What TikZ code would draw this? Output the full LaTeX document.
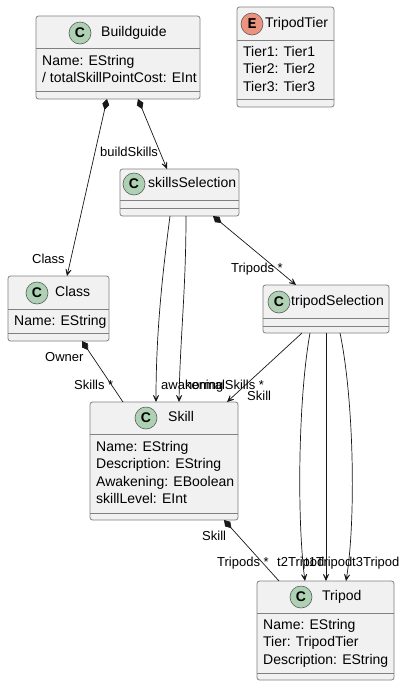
\documentclass[tikz,border=0pt]{standalone}
\usepackage{fontspec}
\setmainfont{Liberation Sans}
\newfontfamily\monob{Liberation Mono}
\usetikzlibrary{arrows.meta,calc}
\definecolor{boxfill}{HTML}{F1F1F1}
\definecolor{boxline}{HTML}{808080}
\definecolor{connline}{HTML}{181818}
\definecolor{cfill}{HTML}{ADD1B2}
\definecolor{efill}{HTML}{EB937F}
\tikzset{
  classbox/.style={draw=boxline, line width=0.8pt, fill=boxfill, rounded corners=2.5pt, anchor=north west, inner sep=0pt, outer sep=0pt},
  sepline/.style={draw=boxline, line width=0.8pt},
  cicon/.style={circle, draw=connline!70, line width=0.6pt, fill=cfill, minimum size=22pt, inner sep=0pt, font=\bfseries\fontsize{14}{14}\selectfont},
  eicon/.style={cicon, fill=efill, font=\monob\bfseries\fontsize{15}{15}\selectfont},
  title/.style={anchor=west, inner sep=0pt, text height=10pt, text depth=3pt, font=\fontsize{14}{16}\selectfont},
  attr/.style={title},
  lbl/.style={anchor=west, inner sep=0pt, text height=9.5pt, text depth=3pt, font=\fontsize{13}{15}\selectfont},
  conn/.style={draw=connline, line width=0.7pt},
  compar/.style={conn, {Diamond[length=11pt,width=7pt]}-{Stealth[length=10pt,width=9pt,inset=6.5pt]}},
  comp/.style={conn, {Diamond[length=11pt,width=7pt]}-},
  ar/.style={conn, -{Stealth[length=10pt,width=9pt,inset=6.5pt]}}
}
\begin{document}
\begin{tikzpicture}[x=1pt,y=-1pt]
\useasboundingbox (0,0) rectangle (403,686);
\fill[white] (0,0) rectangle (403,686);

% Buildguide
\node[classbox, minimum width=164pt, minimum height=83pt] (bg) at (36,16) {};
\draw[sepline] (36,48) -- (200,48);
\draw[sepline] (36,91) -- (200,91);
\node[cicon] (bgc) at (80,33) {C};
\node[title] (bgt) at (101,33) {Buildguide};
\node[attr] (bga1) at (42,62) {Name: EString};
\node[attr] (bga2) at (42,79) {/ totalSkillPointCost: EInt};

% TripodTier
\node[classbox, minimum width=97pt, minimum height=100pt] (tt) at (237,7) {};
\draw[sepline] (237,40) -- (334,40);
\draw[sepline] (237,99) -- (334,99);
\node[eicon] (ttc) at (252,24) {E};
\node[title] (ttt) at (265,24) {TripodTier};
\node[attr] (tta1) at (243,53) {Tier1: Tier1};
\node[attr] (tta2) at (243,70) {Tier2: Tier2};
\node[attr] (tta3) at (243,88) {Tier3: Tier3};

% skillsSelection
\node[classbox, minimum width=119pt, minimum height=47pt] (ss) at (120,169) {};
\draw[sepline] (120,200) -- (239,200);
\draw[sepline] (120,208) -- (239,208);
\node[cicon] (ssc) at (134,184) {C};
\node[title] (sst) at (148,184) {skillsSelection};

% Class
\node[classbox, minimum width=101pt, minimum height=65pt] (cl) at (8,276) {};
\draw[sepline] (8,309) -- (109,309);
\draw[sepline] (8,333) -- (109,333);
\node[cicon] (clc) at (37,293) {C};
\node[title] (clt) at (55,293) {Class};
\node[attr] (cla1) at (14,322) {Name: EString};

% tripodSelection
\node[classbox, minimum width=126pt, minimum height=48pt] (ts) at (263,285) {};
\draw[sepline] (263,318) -- (389,318);
\draw[sepline] (263,326) -- (389,326);
\node[cicon] (tsc) at (279,302) {C};
\node[title] (tst) at (291,302) {tripodSelection};

% Skill
\node[classbox, minimum width=148pt, minimum height=118pt] (sk) at (90,402) {};
\draw[sepline] (90,434) -- (238,434);
\draw[sepline] (90,513) -- (238,513);
\node[cicon] (skc) at (146,418) {C};
\node[title] (skt) at (168,418) {Skill};
\node[attr] (ska1) at (96,448) {Name: EString};
\node[attr] (ska2) at (96,465) {Description: EString};
\node[attr] (ska3) at (96,483) {Awakening: EBoolean};
\node[attr] (ska4) at (96,500) {skillLevel: EInt};

% Tripod
\node[classbox, minimum width=137pt, minimum height=99pt] (tp) at (257,581) {};
\draw[sepline] (257,613) -- (394,613);
\draw[sepline] (257,673) -- (394,673);
\node[cicon] (tpc) at (301,597) {C};
\node[title] (tpt) at (322,597) {Tripod};
\node[attr] (tpa1) at (263,626) {Name: EString};
\node[attr] (tpa2) at (263,643) {Tier: TripodTier};
\node[attr] (tpa3) at (263,661) {Description: EString};

% connectors
\draw[compar] ($(bg.south west)+(71,0)$) -- ($(cl.north west)+(59,0)$);
\draw[compar] ($(bg.south west)+(102,0)$) -- ($(ss.north west)+(47,0)$);
\draw[ar] ($(ss.south west)+(50,0)$) .. controls +(-7,54) and +(0,-72) .. ($(sk.north west)+(66,0)$);
\draw[ar] ($(ss.south west)+(66,0)$) .. controls +(0,74) and +(1,-62) .. ($(sk.north west)+(89,0)$);
\draw[compar] ($(ss.south west)+(93,0)$) -- ($(ts.north west)+(33,0)$);
\draw[comp] ($(cl.south west)+(74,0)$) -- ($(sk.north west)+(33,0)$);
\draw[ar] ($(ts.south west)+(39,0)$) -- ($(sk.north west)+(137,0)$);
\draw[ar] ($(ts.south west)+(47,0)$) .. controls +(-12,67) and +(-8,-61) .. ($(tp.north west)+(48,0)$);
\draw[ar] ($(ts.south west)+(63,0)$) -- ($(tp.north west)+(69,0)$);
\draw[ar] ($(ts.south west)+(77,0)$) .. controls +(14,67) and +(10,-61) .. ($(tp.north west)+(89,0)$);
\draw[comp] ($(sk.south west)+(134,0)$) -- ($(tp.north west)+(22,0)$);

% labels
\node[lbl] (l1) at (100,153) {buildSkills};
\node[lbl] (l2) at (32,260) {Class};
\node[lbl] (l3) at (231,269) {Tripods *};
\node[lbl] (l4) at (45,358) {Owner};
\node[lbl] (l5) at (74,386) {Skills *};
\node[lbl] (l6) at (161,386) {awakening};
\node[lbl] (l7) at (185,386) {normalSkills *};
\node[lbl] (l8) at (247,397) {Skill};
\node[lbl] (l9) at (202,537) {Skill};
\node[lbl] (l10) at (217,563) {Tripods *};
\node[lbl] (l11) at (277,563) {t2Tripod};
\node[lbl] (l12) at (305,563) {t1Tripod};
\node[lbl] (l13) at (352,563) {t3Tripod};
\end{tikzpicture}
\end{document}
